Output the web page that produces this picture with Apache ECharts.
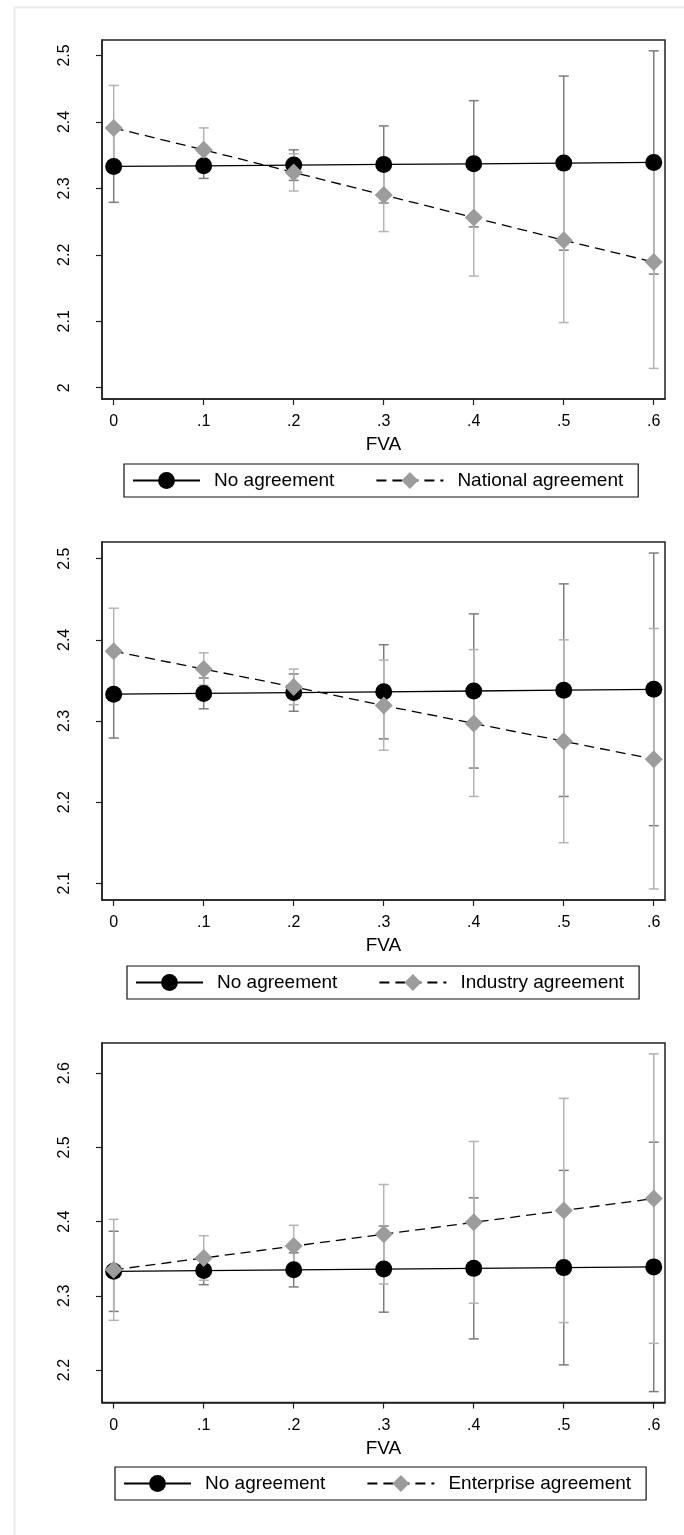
<!DOCTYPE html>
<html>
<head>
<meta charset="utf-8">
<title>FVA margins</title>
<script src="https://cdn.jsdelivr.net/npm/echarts@6.0.0/dist/echarts.min.js"></script>
<style>
  html, body { margin: 0; padding: 0; background: #fff; }
  #chart { width: 684px; height: 1535px; }
</style>
</head>
<body>
<div id="chart"></div>
<script>
// ---- data ----
const fva = [0, 0.1, 0.2, 0.3, 0.4, 0.5, 0.6]
const fvaTicks = [0, 0.1, 0.2, 0.3, 0.4, 0.5, 0.6]

// No agreement: same in all three panels
const noAgreeMean = [2.333, 2.334, 2.335, 2.336, 2.337, 2.338, 2.339]
const noAgreeLow = [2.279, 2.315, 2.312, 2.278, 2.242, 2.207, 2.171]
const noAgreeHigh = [2.387, 2.353, 2.358, 2.394, 2.432, 2.469, 2.507]

const nationalMean = [2.391, 2.358, 2.324, 2.290, 2.256, 2.222, 2.189]
const nationalLow = [2.327, 2.325, 2.296, 2.235, 2.168, 2.098, 2.029]
const nationalHigh = [2.455, 2.391, 2.352, 2.345, 2.345, 2.346, 2.349]

const industryMean = [2.386, 2.364, 2.342, 2.319, 2.297, 2.275, 2.253]
const industryLow = [2.333, 2.344, 2.320, 2.264, 2.207, 2.150, 2.093]
const industryHigh = [2.439, 2.384, 2.364, 2.375, 2.388, 2.400, 2.414]

const enterpriseMean = [2.335, 2.351, 2.367, 2.383, 2.399, 2.415, 2.431]
const enterpriseLow = [2.267, 2.321, 2.339, 2.316, 2.290, 2.264, 2.236]
const enterpriseHigh = [2.403, 2.381, 2.395, 2.450, 2.508, 2.566, 2.626]

const yTicks1 = [2, 2.1, 2.2, 2.3, 2.4, 2.5]
const yTicks2 = [2.1, 2.2, 2.3, 2.4, 2.5]
const yTicks3 = [2.2, 2.3, 2.4, 2.5, 2.6]

// ---- styles ----
const FONT = 'Liberation Sans, Arial, Helvetica, sans-serif'
const DARK_CI = '#7d7d7d'
const LIGHT_CI = '#b3b3b3'
const DIAMOND = '#9c9c9c'

// panel layout: grid top/height, y range, legend box
const panels = [
  { top: 40, height: 359, yMin: 1.983, yMax: 2.5233, yTicks: yTicks1, nameGap: 36, legendLeft: 124, legendTop: 464,
    name: 'National agreement', mean: nationalMean, low: nationalLow, high: nationalHigh },
  { top: 542, height: 358, yMin: 2.0794, yMax: 2.5206, yTicks: yTicks2, nameGap: 36, legendLeft: 127, legendTop: 966,
    name: 'Industry agreement', mean: industryMean, low: industryLow, high: industryHigh },
  { top: 1043, height: 359.5, yMin: 2.1563, yMax: 2.6406, yTicks: yTicks3, nameGap: 37, legendLeft: 115, legendTop: 1467,
    name: 'Enterprise agreement', mean: enterpriseMean, low: enterpriseLow, high: enterpriseHigh }
]

const pairs = (xs, ys) => xs.map((x, i) => [x, ys[i]])
const triples = (xs, lo, hi) => xs.map((x, i) => [x, lo[i], hi[i]])

// vertical bar with caps
const errorBar = (color) => (params, api) => {
  const x = api.value(0)
  const lo = api.coord([x, api.value(1)])
  const hi = api.coord([x, api.value(2)])
  const half = 5
  const style = { stroke: color, lineWidth: 1.5 }
  return {
    type: 'group',
    children: [
      { type: 'line', shape: { x1: hi[0], y1: hi[1], x2: lo[0], y2: lo[1] }, style },
      { type: 'line', shape: { x1: hi[0] - half, y1: hi[1], x2: hi[0] + half, y2: hi[1] }, style },
      { type: 'line', shape: { x1: lo[0] - half, y1: lo[1], x2: lo[0] + half, y2: lo[1] }, style }
    ]
  }
}

const xLabel = (v) => (v === 0 ? '0' : v.toFixed(1).replace(/^0/, ''))

const grid = [], xAxis = [], yAxis = [], series = [], legend = []

panels.forEach((p, i) => {
  grid.push({
    left: 102, right: 19, top: p.top, height: p.height,
    show: true, borderColor: '#222', borderWidth: 1.5, backgroundColor: '#fff'
  })
  xAxis.push({
    type: 'value', gridIndex: i, min: -0.013, max: 0.6125,
    name: 'FVA', nameLocation: 'middle', nameGap: p.nameGap,
    nameTextStyle: { fontSize: 19, color: '#000', fontFamily: FONT },
    axisLine: { show: true, onZero: false, lineStyle: { color: '#222', width: 1.5 } },
    axisTick: { show: true, length: 6, customValues: fvaTicks, lineStyle: { color: '#222', width: 1.2 } },
    axisLabel: { customValues: fvaTicks, formatter: xLabel, margin: 15, fontSize: 16, color: '#000', fontFamily: FONT },
    splitLine: { show: false }
  })
  yAxis.push({
    type: 'value', gridIndex: i, min: p.yMin, max: p.yMax,
    axisLine: { show: true, onZero: false, lineStyle: { color: '#222', width: 1.5 } },
    axisTick: { show: true, length: 6, customValues: p.yTicks, lineStyle: { color: '#222', width: 1.2 } },
    axisLabel: { customValues: p.yTicks, rotate: 90, margin: 29, fontSize: 16, color: '#000', fontFamily: FONT,
      formatter: (v) => String(Math.round(v * 10) / 10) },
    splitLine: { show: false }
  })

  // confidence intervals first
  series.push({
    type: 'custom', name: 'No agreement CI', xAxisIndex: i, yAxisIndex: i, z: 1,
    renderItem: errorBar(DARK_CI), encode: { x: 0, y: [1, 2] },
    data: triples(fva, noAgreeLow, noAgreeHigh)
  })
  series.push({
    type: 'custom', name: p.name + ' CI', xAxisIndex: i, yAxisIndex: i, z: 1,
    renderItem: errorBar(LIGHT_CI), encode: { x: 0, y: [1, 2] },
    data: triples(fva, p.low, p.high)
  })
  // point estimates
  series.push({
    type: 'line', name: 'No agreement', xAxisIndex: i, yAxisIndex: i, z: 2,
    symbol: 'circle', symbolSize: 17, showSymbol: true,
    itemStyle: { color: '#000' },
    lineStyle: { color: '#000', width: 1.3 },
    data: pairs(fva, noAgreeMean)
  })
  series.push({
    type: 'line', name: p.name, xAxisIndex: i, yAxisIndex: i, z: 3,
    symbol: 'diamond', symbolSize: 18, showSymbol: true,
    itemStyle: { color: DIAMOND },
    lineStyle: { color: '#000', width: 1.3, type: [10, 6] },
    data: pairs(fva, p.mean)
  })

  legend.push({
    data: ['No agreement', p.name],
    left: p.legendLeft, top: p.legendTop,
    orient: 'horizontal',
    itemWidth: 67, itemHeight: 21, itemGap: 41,
    padding: [7, 15, 7, 8],
    borderColor: '#111', borderWidth: 1.2,
    selectedMode: false,
    textStyle: { fontSize: 19, color: '#000', fontFamily: FONT, padding: [0, 0, 0, 9] }
  })
})

const chart = echarts.init(document.getElementById('chart'))
chart.setOption({
  animation: false,
  backgroundColor: '#fff',
  graphic: [{
    type: 'rect', left: 12, top: 5, silent: true, z: -10,
    shape: { width: 700, height: 1600 },
    style: { fill: 'none', stroke: '#ebebeb', lineWidth: 2 }
  }],
  grid, xAxis, yAxis, series, legend
})
</script>
</body>
</html>
